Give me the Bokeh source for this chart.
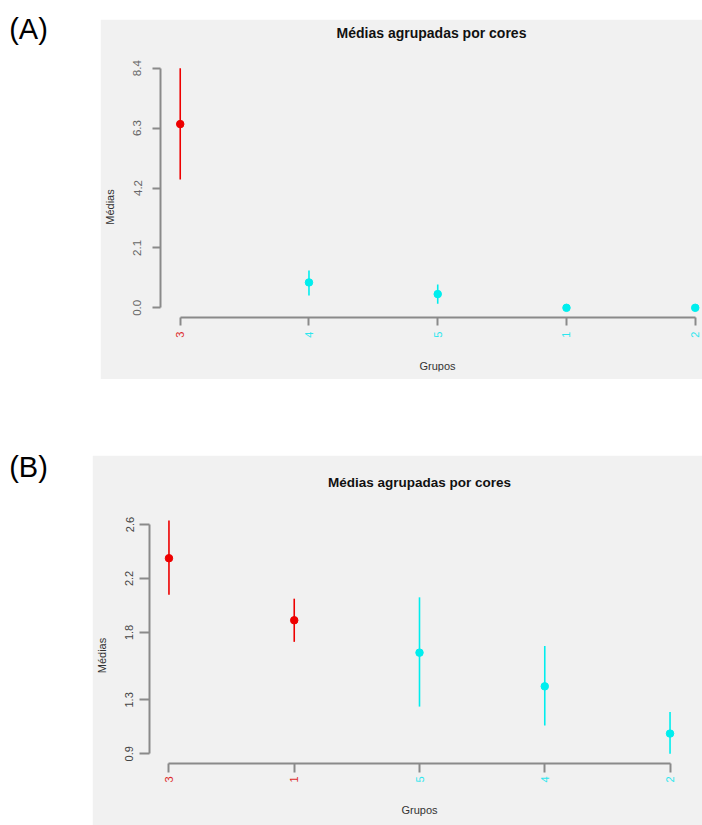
import math
from bokeh.plotting import figure
from bokeh.models import (ColumnDataSource, Range1d, FixedTicker, LabelSet, Label, Spacer)
from bokeh.layouts import column, row
from bokeh.core.properties import value
from bokeh.embed import file_html
from bokeh.resources import INLINE

# ---------------- data ----------------
titulo = "Médias agrupadas por cores"

grupos_A = ["3", "4", "5", "1", "2"]
medias_A = [6.44, 0.89, 0.48, 0.0, 0.0]
inf_A = [4.50, 0.43, 0.14, 0.0, 0.0]
sup_A = [8.40, 1.31, 0.82, 0.0, 0.0]
cores_A = ["red", "cyan", "cyan", "cyan", "cyan"]
yticks_A = [0.0, 2.1, 4.2, 6.3, 8.4]
ylabels_A = ["0.0", "2.1", "4.2", "6.3", "8.4"]

grupos_B = ["3", "1", "5", "4", "2"]
medias_B = [2.35, 1.89, 1.65, 1.40, 1.05]
inf_B = [2.08, 1.73, 1.25, 1.11, 0.90]
sup_B = [2.63, 2.05, 2.06, 1.70, 1.21]
cores_B = ["red", "red", "cyan", "cyan", "cyan"]
yticks_B = [0.9, 1.3, 1.8, 2.2, 2.6]
ylabels_B = ["0.9", "1.3", "1.8", "2.2", "2.6"]

# ---------------- style ----------------
FONT = "Liberation Sans"
BG = "#f1f1f1"
AXIS = "#8a8a8a"
PT = {"red": "#ee0000", "cyan": "#00eeee"}
LBL = {"red": "#dd2a2a", "cyan": "#2ee6ee"}


def panel(grupos, medias, inf, sup, cores, yticks, ylabels, W, H,
          mb_left, mb_right, mb_top, pad_l, pad_r, pad_b, pad_t,
          axis_gap, lab_gap, grupos_gap, grupos_dx,
          tick_x, tick_y, title_size, title_standoff, title_valign, tick_size,
          ylab_standoff, ylab_axis_standoff, tick_color):
    n = len(grupos)
    xs = list(range(1, n + 1))
    fw = W - mb_left - mb_right
    fh = H - mb_top - tick_x
    ppx = (fw - pad_l - pad_r) / (xs[-1] - xs[0])
    ppy = (fh - pad_b - pad_t) / (yticks[-1] - yticks[0])
    xr = Range1d(xs[0] - pad_l / ppx, xs[-1] + pad_r / ppx)
    yr = Range1d(yticks[0] - pad_b / ppy, yticks[-1] + pad_t / ppy)

    p = figure(width=W, height=H, x_range=xr, y_range=yr,
               output_backend="svg", toolbar_location=None,
               min_border_left=mb_left, min_border_right=mb_right,
               min_border_top=mb_top, min_border_bottom=tick_x,
               background_fill_color=BG, border_fill_color=BG,
               outline_line_color=BG, outline_line_width=1.5, title=titulo)
    p.grid.visible = False
    p.title.align = "center"
    p.title.vertical_align = title_valign
    p.title.text_font = FONT
    p.title.text_font_size = title_size
    p.title.text_font_style = "bold"
    p.title.text_color = "#111111"
    p.title.standoff = title_standoff

    # y axis (R style: line only between first and last tick)
    ya = p.yaxis[0]
    ya.ticker = FixedTicker(ticks=yticks)
    ya.major_label_overrides = {t: l for t, l in zip(yticks, ylabels)}
    ya.bounds = (yticks[0], yticks[-1])
    ya.minor_tick_line_color = None
    ya.major_tick_in = 0
    ya.major_tick_out = tick_y
    ya.axis_line_color = AXIS
    ya.axis_line_width = 2
    ya.major_tick_line_color = AXIS
    ya.major_tick_line_width = 2
    ya.major_label_orientation = "vertical"
    ya.major_label_text_font = FONT
    ya.major_label_text_font_size = tick_size
    ya.major_label_text_color = tick_color
    ya.major_label_standoff = ylab_standoff
    ya.axis_label = "Médias"
    ya.axis_label_text_font = FONT
    ya.axis_label_text_font_size = "11px"
    ya.axis_label_text_font_style = "normal"
    ya.axis_label_text_color = "#333333"
    ya.axis_label_standoff = ylab_axis_standoff

    # x axis, detached below the data like R's axis(); coloured labels drawn separately
    y_axis_line = yticks[0] - axis_gap / ppy
    xa = p.xaxis[0]
    xa.fixed_location = y_axis_line
    xa.ticker = FixedTicker(ticks=xs)
    xa.major_label_overrides = {x: "" for x in xs}
    xa.major_label_text_font_size = "0px"
    xa.bounds = (xs[0], xs[-1])
    xa.minor_tick_line_color = None
    xa.major_tick_in = 0
    xa.major_tick_out = tick_x
    xa.axis_line_color = AXIS
    xa.axis_line_width = 2
    xa.major_tick_line_color = AXIS
    xa.major_tick_line_width = 2
    xa.major_label_standoff = 0

    src = ColumnDataSource(dict(
        x=xs, m=medias, lo=inf, hi=sup,
        c=[PT[c] for c in cores], lc=[LBL[c] for c in cores],
        t=grupos, ly=[yticks[0] - lab_gap / ppy] * n))
    p.segment(x0="x", y0="lo", x1="x", y1="hi", color="c", line_width=1.6, source=src)
    p.scatter(x="x", y="m", size=7.5, color="c", source=src)

    p.add_layout(LabelSet(x="x", y="ly", text="t", text_color="lc", source=src,
                          angle=math.pi / 2, text_align="center", text_baseline="middle",
                          text_font=value(FONT), text_font_size=value("11px")))
    p.add_layout(Label(x=(xr.start + xr.end) / 2 + grupos_dx / ppx,
                       y=yticks[0] - grupos_gap / ppy, text="Grupos",
                       text_align="center", text_baseline="middle",
                       text_font=FONT, text_font_size="11px", text_color="#333333"))
    return p


def tag(txt, W, H, cx, cy):
    q = figure(width=W, height=H, x_range=Range1d(0, W), y_range=Range1d(H, 0),
               output_backend="svg", toolbar_location=None, min_border=0,
               background_fill_color="white", border_fill_color="white",
               outline_line_color=None)
    q.axis.visible = False
    q.grid.visible = False
    q.add_layout(Label(x=cx, y=cy, text=txt, text_align="center", text_baseline="middle",
                       text_font=FONT, text_font_size="29px", text_color="black"))
    return q


# Panel A: gray box x 100..702, y 19..379 ; axis line at y=317, 0.0 at 307.3, 8.4 at 67.7
pA = panel(grupos_A, medias_A, inf_A, sup_A, cores_A, yticks_A, ylabels_A,
           W=602, H=360, mb_left=58, mb_right=0, mb_top=23,
           pad_l=19.8, pad_r=7.3, pad_b=63.7, pad_t=25.7,
           axis_gap=9.7, lab_gap=27.0, grupos_gap=58.0, grupos_dx=6,
           tick_x=8, tick_y=8, title_size="14px", title_standoff=0, title_valign="top",
           tick_size="11.5px", ylab_standoff=11, ylab_axis_standoff=15,
           tick_color="#666666")

# Panel B: gray box x 92..702, y 455..825 ; axis line at y=762.7, 0.9 at 753.3, 2.6 at 524
pB = panel(grupos_B, medias_B, inf_B, sup_B, cores_B, yticks_B, ylabels_B,
           W=610, H=370, mb_left=56, mb_right=13, mb_top=39,
           pad_l=19.5, pad_r=19.5, pad_b=62.7, pad_t=30.0,
           axis_gap=9.4, lab_gap=25.7, grupos_gap=56.0, grupos_dx=0,
           tick_x=9, tick_y=10, title_size="13.5px", title_standoff=10, title_valign="bottom",
           tick_size="11px", ylab_standoff=6, ylab_axis_standoff=15,
           tick_color="#444444")

tA = tag("(A)", 100, 379, 28, 28)
tB = tag("(B)", 92, 390, 28, 31)

layout = column(
    row(tA, column(Spacer(width=602, height=19), pA)),
    Spacer(width=702, height=56),
    row(tB, column(Spacer(width=610, height=20), pB)),
)

open("out.html", "w").write(file_html(layout, INLINE))
